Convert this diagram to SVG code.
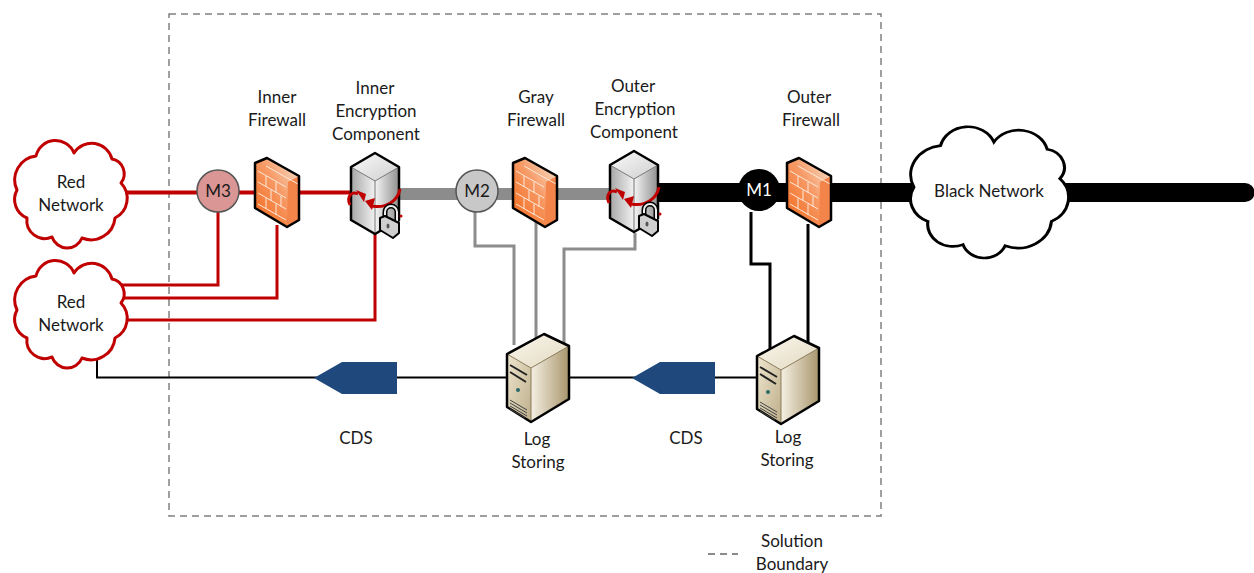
<svg xmlns="http://www.w3.org/2000/svg" width="1254" height="573" viewBox="0 0 1254 573">
<style>
text{font-family:Lato,"Liberation Sans",sans-serif;font-size:17px;fill:#1a1a1a;text-anchor:middle}
.cl{fill:#fff;stroke-width:3;stroke-linejoin:round}
.red{fill:none;stroke:#c00000;stroke-width:3}
.gry{fill:none;stroke:#8c8c8c;stroke-width:3}
.blk{fill:none;stroke:#000;stroke-width:3}
.ol{fill:none;stroke:#000;stroke-width:2.500;stroke-linejoin:round}
.cds{fill:#1f497d}
.swirl{fill:none;stroke:#c00000;stroke-width:3}
</style>
<defs>
<linearGradient id="fw" x1="0" y1="1" x2="1" y2="0"><stop offset="0" stop-color="#f26412"/><stop offset=".55" stop-color="#f79a66"/><stop offset="1" stop-color="#f6ead8"/></linearGradient>
<linearGradient id="sv1" x1="0" y1="0" x2="1" y2="0"><stop offset="0" stop-color="#a6a6a6"/><stop offset="1" stop-color="#f2f2f2"/></linearGradient>
<linearGradient id="sv2" x1="0" y1="0" x2="1" y2="0"><stop offset="0" stop-color="#f4f4f4"/><stop offset="1" stop-color="#8f8f8f"/></linearGradient>
<linearGradient id="svt" x1="0" y1="0" x2="1" y2="1"><stop offset="0" stop-color="#fafafa"/><stop offset="1" stop-color="#cfcfcf"/></linearGradient>
<linearGradient id="lg1" x1="0" y1="0" x2="1" y2="1"><stop offset="0" stop-color="#efe6cf"/><stop offset="1" stop-color="#bdae8a"/></linearGradient>
<linearGradient id="lg2" x1="0" y1="0" x2="1" y2="0"><stop offset="0" stop-color="#f5f0e3"/><stop offset="1" stop-color="#a8956c"/></linearGradient>
<linearGradient id="lgt" x1="0" y1="0" x2="1" y2="1"><stop offset="0" stop-color="#fbf8ef"/><stop offset="1" stop-color="#e2d8bf"/></linearGradient>
<path id="cloud" d="M36 156A20 20 0 0 1 74 153A21 21 0 0 1 112 159A15 15 0 0 1 121 183A22 22 0 0 1 115 218A24 24 0 0 1 82 238A16 16 0 0 1 52 237A18 18 0 0 1 27 218A20 20 0 0 1 17 190A24 24 0 0 1 36 156Z"/>
<g id="firewall">
<path fill="url(#fw)" d="M255 163L267 158L299 176V220L287 227L255 208Z"/>
<path fill="#f4854a" d="M288 182L299 176V220L287 227Z"/>
<path fill="none" stroke="#fde9da" stroke-width="1" d="M258 171L286 187M258 182L286 198M258 193L286 209M258 204L286 220M266 166L298 184M266 176V187M276 182V193M266 198V209M276 204V215M271 190V201M281 196V207"/>
<path class="ol" d="M255 163L267 158L299 176V220L287 227L255 208Z"/>
</g>
<g id="encsrv">
<path fill="url(#sv1)" d="M351 167L375 181V234L351 220Z"/>
<path fill="url(#sv2)" d="M375 181L399 167V220L375 234Z"/>
<path fill="url(#svt)" d="M375 153L399 167L375 181L351 167Z"/>
<path fill="none" stroke="#777" stroke-width="1" d="M351 167L375 181L399 167M375 181V234"/>
<path class="ol" d="M375 153L399 167V220L375 234L351 220V167Z"/>
<path class="swirl" d="M350 205C346 196 352 191 358 194"/>
<path fill="#c00000" d="M364 202L356 190L366 194Z"/>
<path class="swirl" d="M400 189C398 200 387 209 372 206"/>
<path fill="#c00000" d="M365 201L375 198L372 210Z"/>
<path fill="none" stroke="#000" stroke-width="5" d="M385 220V212A6 6 0 0 1 397 212V224"/>
<path fill="none" stroke="#eee" stroke-width="2" d="M385 220V212A6 6 0 0 1 397 212V224"/>
<path fill="#cfcfcf" stroke="#000" stroke-width="2" stroke-linejoin="round" d="M380 218L385 216L399 223V233L393 238L380 230Z"/>
<ellipse cx="388" cy="226" rx="1.500" ry="2.500" fill="#555"/>
<circle cx="401" cy="216" r="1.500" fill="#c00000"/>
</g>
<g id="logsrv">
<path fill="url(#lg1)" d="M507 354L531 368V422L507 407Z"/>
<path fill="url(#lg2)" d="M531 368L569 346V399L531 422Z"/>
<path fill="url(#lgt)" d="M544 334L569 346L531 368L507 354Z"/>
<path fill="none" stroke="#8a7a58" stroke-width="1" d="M507 354L531 368L569 346M531 368V422"/>
<path class="ol" d="M544 334L569 346V399L531 422L507 407V354Z"/>
<path fill="none" stroke="#222" stroke-width="2" d="M510 365L527 375M510 372L526 382"/>
<path fill="none" stroke="#444" stroke-width="1" d="M510 400L527 410M510 403L527 413M510 406L527 416M510 409L525 418"/>
<circle cx="518" cy="390" r="2" fill="#2a6a6a"/>
</g>
</defs>

<rect x="169" y="14" width="712" height="502" fill="none" stroke="#808080" stroke-width="1.500" stroke-dasharray="7 5"/>

<g id="connectors">
<path style="stroke:#c00000;stroke-width:4;fill:none" d="M118 192.500H360"/>
<path style="stroke:#8c8c8c;stroke-width:12;fill:none" d="M399 194H612"/>
<path style="stroke:#000;stroke-width:19;fill:none" d="M658 192.500H912"/>
<path style="stroke:#000;stroke-width:19;fill:none;stroke-linecap:round" d="M1064 192.500H1245"/>
<path class="red" d="M218 212V285H118M277 225V298H118M375 232V320H118"/>
<path class="gry" d="M475 212V246H514V345M536 222V340M635 233V249H564V345"/>
<path class="blk" d="M751 212V264H770V350M808 224V345"/>
<path style="stroke:#000;stroke-width:2;fill:none" d="M97 359V377.500H507M569 377.500H757"/>
</g>

<g id="cds1"><path class="cds" d="M314 378L342 362H397V394H342Z"/></g>
<g id="cds2"><path class="cds" d="M632 378L660 362H715V394H660Z"/></g>

<g id="red-net-1"><use href="#cloud" class="cl" stroke="#c00000"/><text x="71" y="188">Red</text><text x="71" y="211">Network</text></g>
<g id="red-net-2"><use href="#cloud" class="cl" stroke="#c00000" y="120"/><text x="71" y="308">Red</text><text x="71" y="331">Network</text></g>
<g id="black-net"><use href="#cloud" fill="#fff" stroke="#000" stroke-width="2.200" transform="translate(890,-45) scale(1.404,1.222)"/><text x="989" y="197">Black Network</text></g>

<g id="m3"><circle cx="218" cy="191" r="21" fill="#d99694" stroke="#555" stroke-width="1.500"/><text x="218" y="197">M3</text></g>
<g id="m2"><circle cx="477" cy="191" r="21" fill="#c8c8c8" stroke="#555" stroke-width="1.500"/><text x="477" y="197">M2</text></g>
<g id="m1"><circle cx="759" cy="190" r="21" fill="#000"/><text x="759" y="196" style="fill:#fff">M1</text></g>

<g id="inner-fw"><use href="#firewall"/><text x="277" y="103">Inner</text><text x="277" y="126">Firewall</text></g>
<g id="inner-enc"><use href="#encsrv"/><text x="375" y="94">Inner</text><text x="376" y="117">Encryption</text><text x="376" y="140">Component</text></g>
<g id="gray-fw"><use href="#firewall" x="258"/><text x="536" y="103">Gray</text><text x="536" y="126">Firewall</text></g>
<g id="outer-enc"><use href="#encsrv" x="259" y="-2"/><text x="633" y="92">Outer</text><text x="635" y="115">Encryption</text><text x="634" y="138">Component</text></g>
<g id="outer-fw"><use href="#firewall" x="532"/><text x="809" y="103">Outer</text><text x="811" y="126">Firewall</text></g>
<g id="log1"><use href="#logsrv"/><text x="537" y="445">Log</text><text x="538" y="468">Storing</text></g>
<g id="log2"><use href="#logsrv" x="250" y="2"/><text x="788" y="443">Log</text><text x="787" y="466">Storing</text></g>
<text x="356" y="444">CDS</text>
<text x="686" y="444">CDS</text>
<g id="legend"><path d="M708 554H738" stroke="#666" stroke-width="1.500" stroke-dasharray="7 5" fill="none"/><text x="792" y="547">Solution</text><text x="792" y="570">Boundary</text></g>
</svg>
